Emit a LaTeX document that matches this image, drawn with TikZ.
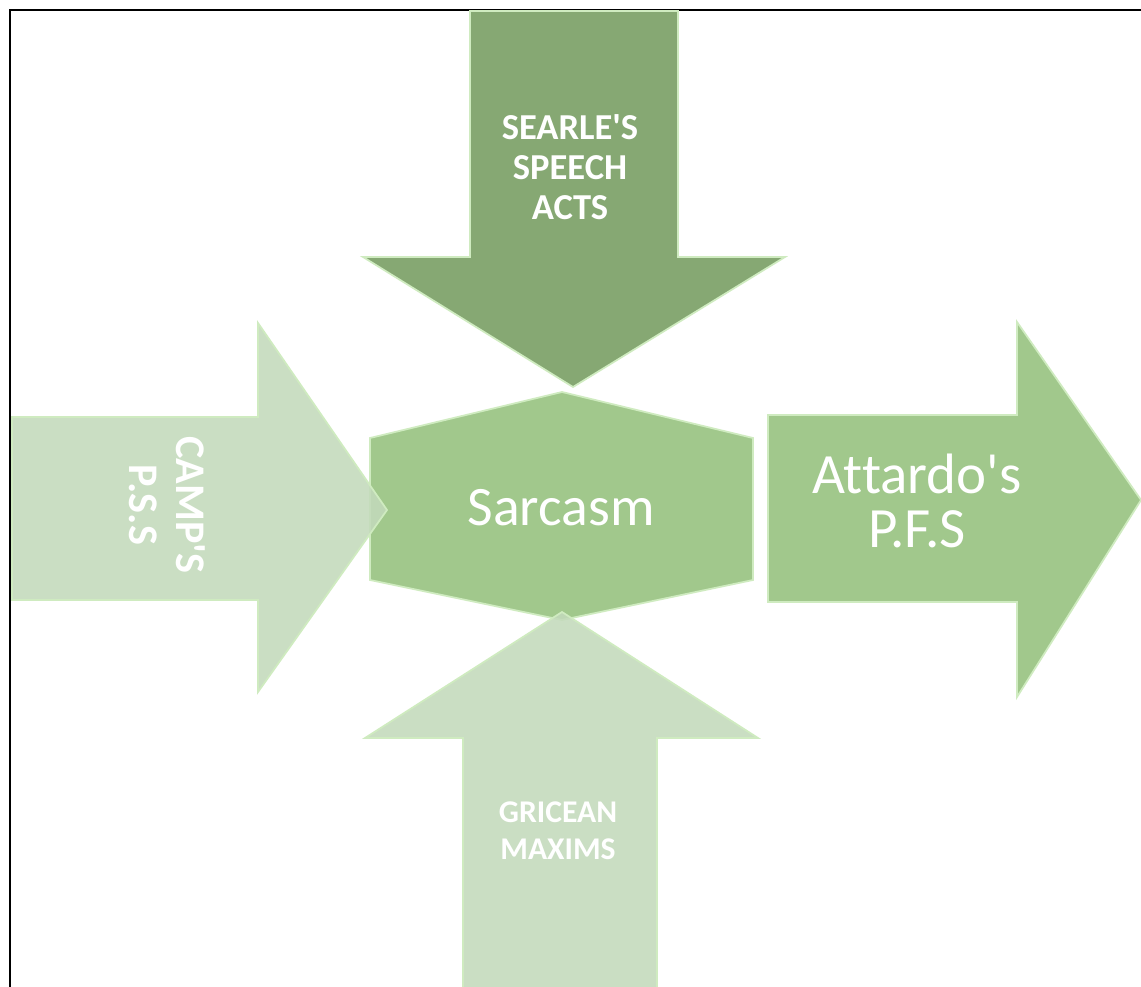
\documentclass[tikz,border=0pt]{standalone}
\usepackage{fontspec}
\setmainfont{Carlito}[Ligatures={NoCommon}]
\usetikzlibrary{positioning}
\definecolor{darkleaf}{HTML}{86A873}
\definecolor{midleaf}{HTML}{A1C88C}
\definecolor{paleleaf}{HTML}{C3DABB}
\definecolor{rimleaf}{HTML}{CFEBC0}
\tikzstyle{darkarrow} = [fill=darkleaf, draw=rimleaf, line width=1pt]
\tikzstyle{midshape} = [fill=midleaf, draw=rimleaf, line width=1pt]
\tikzstyle{palearrow} = [fill=paleleaf, draw=rimleaf, line width=1pt,
    fill opacity=0.88]
\tikzstyle{arrowtext} = [text=white, align=center, inner sep=0pt]
\newcommand{\apos}{\textquotesingle}

\begin{document}
\begin{tikzpicture}[x=0.02cm, y=-0.02cm]
        \useasboundingbox (0,0) rectangle (1141,986);
        \clip (0,0) rectangle (1141,986);

        % frame
        \draw[line width=1.2pt] (10,1000) -- (10,10) -- (1160,10);

        % shapes
        \draw[darkarrow] (470,11) -- (470,257) -- (363,257) -- (573,387)
            -- (785,257) -- (678,257) -- (678,11) -- cycle;
        \draw[midshape] (562,392) -- (753,438) -- (753,580) -- (562,620)
            -- (370,580) -- (370,438) -- cycle;
        \draw[midshape] (768,415) -- (1017,415) -- (1017,322) -- (1141,500)
            -- (1017,697) -- (1017,602) -- (768,602) -- cycle;
        \draw[palearrow] (12,417) -- (258,417) -- (258,323) -- (387,510)
            -- (258,692) -- (258,600) -- (12,600) -- cycle;
        \draw[palearrow] (463,1000) -- (463,738) -- (365,738) -- (562,612)
            -- (758,738) -- (657,738) -- (657,1000) -- cycle;

        % texts
        \node[arrowtext, font=\fontsize{20.8}{22.8}\selectfont\bfseries]
            (searle) at (570,167) {SEARLE\apos S\\SPEECH\\ACTS};
        \node[arrowtext, rotate=-90,
            font=\fontsize{24}{26.7}\selectfont\bfseries]
            (camp) at (167,505) {CAMP\apos S\\P.S.S};
        \node[arrowtext, font=\fontsize{18}{21}\selectfont\bfseries]
            (grice) at (558,831) {GRICEAN\\MAXIMS};
        \node[arrowtext, font=\fontsize{31.7}{36}\selectfont]
            (sarcasm) at (561,508) {Sarcasm};
        \node[arrowtext, font=\fontsize{32.4}{30.7}\selectfont]
            (attardo) at (917,501) {Attardo\apos s\\P.F.S};
    \end{tikzpicture}
\end{document}
